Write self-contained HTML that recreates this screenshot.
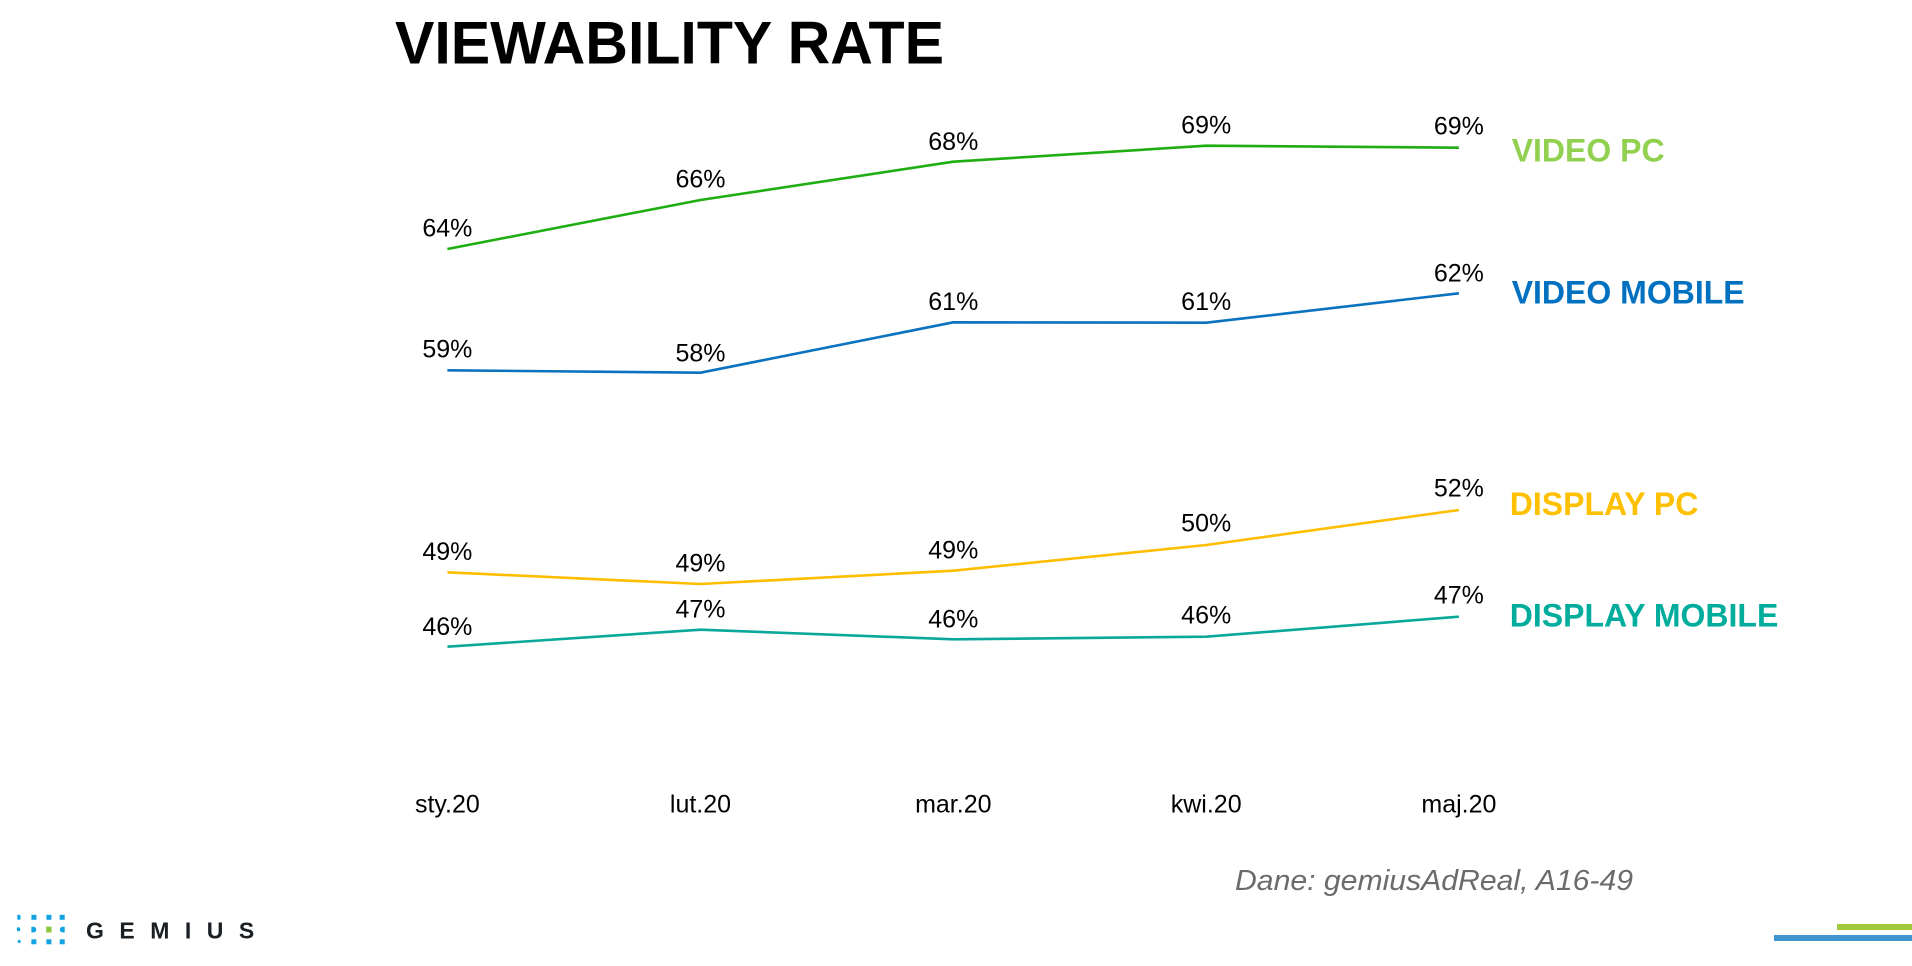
<!DOCTYPE html>
<html>
<head>
<meta charset="utf-8">
<style>
  html, body { margin: 0; padding: 0; background: #ffffff; }
  body { width: 1912px; height: 966px; overflow: hidden; }
  svg { display: block; }
  text { font-family: "Liberation Sans", Arial, sans-serif; }
</style>
</head>
<body>
<svg width="1912" height="966" viewBox="0 0 1912 966" xmlns="http://www.w3.org/2000/svg">
  <rect width="1912" height="966" fill="#ffffff"/>

  <!-- Title -->
  <text x="395" y="63.5" font-size="60" font-weight="bold" fill="#000" textLength="549" lengthAdjust="spacingAndGlyphs">VIEWABILITY RATE</text>

  <!-- Series lines -->
  <polyline fill="none" stroke="#1FAE12" stroke-width="2.6" stroke-linejoin="round"
    points="447.4,249 700.5,200 953.3,161.7 1206.2,145.7 1458.9,147.7"/>
  <polyline fill="none" stroke="#0A72BE" stroke-width="2.6" stroke-linejoin="round"
    points="447.4,370.3 700.5,372.7 953.3,322.3 1206.2,322.7 1458.9,293.3"/>
  <polyline fill="none" stroke="#FFBD00" stroke-width="2.6" stroke-linejoin="round"
    points="447.4,572.3 700.5,584 953.3,570.7 1206.2,545 1458.9,510"/>
  <polyline fill="none" stroke="#0AA89A" stroke-width="2.6" stroke-linejoin="round"
    points="447.4,646.7 700.5,629.7 953.3,639.3 1206.2,636.7 1458.9,616.7"/>

  <!-- Data labels -->
  <g font-size="25" fill="#000" text-anchor="middle">
    <text x="447.4" y="236.7">64%</text>
    <text x="700.5" y="187.5">66%</text>
    <text x="953.3" y="150">68%</text>
    <text x="1206.2" y="133.5">69%</text>
    <text x="1458.9" y="134.3">69%</text>

    <text x="447.4" y="357.3">59%</text>
    <text x="700.5" y="361.7">58%</text>
    <text x="953.3" y="310">61%</text>
    <text x="1206.2" y="310">61%</text>
    <text x="1458.9" y="281.7">62%</text>

    <text x="447.4" y="560">49%</text>
    <text x="700.5" y="571.7">49%</text>
    <text x="953.3" y="558.3">49%</text>
    <text x="1206.2" y="531.7">50%</text>
    <text x="1458.9" y="496.7">52%</text>

    <text x="447.4" y="635">46%</text>
    <text x="700.5" y="617.7">47%</text>
    <text x="953.3" y="627.3">46%</text>
    <text x="1206.2" y="623.3">46%</text>
    <text x="1458.9" y="603.3">47%</text>
  </g>

  <!-- Series labels -->
  <g font-size="32" font-weight="bold">
    <text x="1511.7" y="161.7" fill="#92D050">VIDEO PC</text>
    <text x="1511.7" y="303.3" fill="#0070C0">VIDEO MOBILE</text>
    <text x="1509.8" y="515" fill="#FFC000">DISPLAY PC</text>
    <text x="1509.8" y="626.7" fill="#00AC9C">DISPLAY MOBILE</text>
  </g>

  <!-- X axis labels -->
  <g font-size="25" fill="#000" text-anchor="middle">
    <text x="447.4" y="812.7">sty.20</text>
    <text x="700.5" y="812.7">lut.20</text>
    <text x="953.3" y="812.7">mar.20</text>
    <text x="1206.2" y="812.7">kwi.20</text>
    <text x="1458.9" y="812.7">maj.20</text>
  </g>

  <!-- Source -->
  <text x="1235" y="890" font-size="29" font-style="italic" fill="#6B6B6B" textLength="398" lengthAdjust="spacingAndGlyphs">Dane: gemiusAdReal, A16-49</text>

  <!-- Gemius logo -->
  <g fill="#12A3E0">
    <rect x="17.3" y="914.8" width="3.2" height="5" rx="1"/>
    <rect x="31.4" y="914.8" width="5" height="5"/>
    <rect x="46.4" y="914.8" width="5" height="5"/>
    <rect x="59.7" y="914.8" width="5" height="5"/>

    <rect x="16.8" y="927.3" width="3.4" height="4" rx="1.6"/>
    <path d="M31.4,926.7 h2 a2.9,2.9 0 0 1 0,5.8 h-2 z"/>
    <path d="M64.7,926.7 h-2 a2.9,2.9 0 0 0 0,5.8 h2 z"/>

    <rect x="17.8" y="939.8" width="2.8" height="3.2" rx="1.3"/>
    <rect x="31.4" y="939.3" width="5" height="5"/>
    <rect x="46.4" y="939.3" width="5" height="5"/>
    <rect x="59.7" y="939.3" width="5" height="5"/>
  </g>
  <rect x="46.2" y="926.6" width="5.4" height="5.9" fill="#8DC63F"/>
  <text x="86 119.4 150.2 184.9 206.8 238.9" y="938.5" font-size="23" fill="#1A1F24" font-weight="bold">GEMIUS</text>

  <!-- Bottom-right accent lines -->
  <rect x="1837" y="924" width="75" height="6" fill="#A2C83E"/>
  <rect x="1774" y="935" width="138" height="6" fill="#3F94CD"/>
</svg>
</body>
</html>
